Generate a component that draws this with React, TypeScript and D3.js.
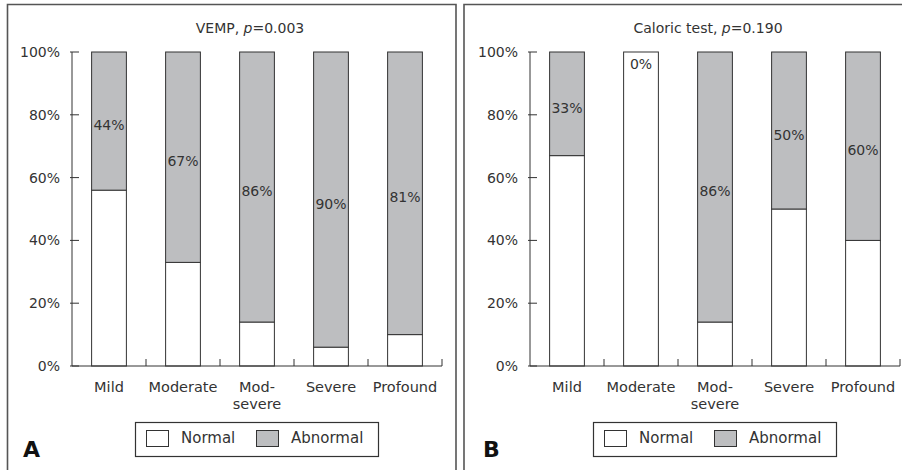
import React, { useEffect, useRef } from 'react';
import * as d3 from 'd3';

const categories = ['Mild', 'Moderate', 'Mod-severe', 'Severe', 'Profound'];
const seriesNames = ['Normal', 'Abnormal'];
const yTicks = [0, 20, 40, 60, 80, 100];

// VEMP panel (bar heights, labels as printed)
const vempNormal = [56, 33, 14, 6, 10];
const vempAbnormal = [44, 67, 86, 94, 90];
const vempLabels = ['44%', '67%', '86%', '90%', '81%'];

// Caloric test panel
const caloricNormal = [67, 100, 14, 50, 40];
const caloricAbnormal = [33, 0, 86, 50, 60];
const caloricLabels = ['33%', '0%', '86%', '50%', '60%'];

const panels = [
  { letter: 'A', title: 'VEMP', p: '=0.003', normal: vempNormal, abnormal: vempAbnormal, labels: vempLabels },
  { letter: 'B', title: 'Caloric test', p: '=0.190', normal: caloricNormal, abnormal: caloricAbnormal, labels: caloricLabels },
];

const FONT = 'DejaVu Sans, Verdana, sans-serif';
const GRAY = '#bdbec0';
const INK = '#333';

const App = () => {
  const svgRef = useRef();

  useEffect(() => {
    const svg = d3.select(svgRef.current);
    svg.selectAll('*').remove();

    const width = 902;
    const height = 470;
    svg.attr('width', width).attr('height', height);

    const panelOffset = 458;
    const y = d3.scaleLinear().domain([0, 100]).range([366, 52]);

    panels.forEach((panel, pi) => {
      const ox = pi * panelOffset;
      const g = svg.append('g');

      // panel frame
      if (pi === 0) {
        g.append('path')
          .attr('d', 'M7.5,470 V4.5 H456 V470')
          .attr('fill', 'none').attr('stroke', '#555').attr('stroke-width', 1.6);
      } else {
        g.append('path')
          .attr('d', 'M464,470 V4.5 H903')
          .attr('fill', 'none').attr('stroke', '#555').attr('stroke-width', 1.6);
      }

      const x = d3.scaleBand().domain(categories).range([72 + ox, 442 + ox]).paddingInner(0.53).paddingOuter(0.265);

      // title
      const title = g.append('text')
        .attr('x', 250 + ox).attr('y', 33)
        .attr('text-anchor', 'middle')
        .style('font-family', FONT).style('font-size', '14px').attr('fill', INK);
      title.append('tspan').text(panel.title + ', ');
      title.append('tspan').style('font-style', 'italic').text('p');
      title.append('tspan').text(panel.p);

      const rows = categories.map((c, i) => ({ cat: c, Normal: panel.normal[i], Abnormal: panel.abnormal[i] }));
      const stacked = d3.stack().keys(seriesNames)(rows);
      const color = d3.scaleOrdinal().domain(seriesNames).range(['#fff', GRAY]);

      stacked.forEach(layer => {
        g.append('g').selectAll('rect')
          .data(layer)
          .enter().append('rect')
          .attr('x', d => x(d.data.cat))
          .attr('width', x.bandwidth())
          .attr('y', d => y(d[1]))
          .attr('height', d => y(d[0]) - y(d[1]))
          .attr('fill', color(layer.key))
          .attr('stroke', INK)
          .attr('stroke-width', 1);
      });

      // value labels in the abnormal segment
      const abn = stacked[1];
      g.append('g').selectAll('text')
        .data(abn)
        .enter().append('text')
        .attr('x', d => x(d.data.cat) + x.bandwidth() / 2)
        .attr('y', d => Math.max((y(d[0]) + y(d[1])) / 2 + 9, y(d[1]) + 17))
        .attr('text-anchor', 'middle')
        .style('font-family', FONT).style('font-size', '14px').attr('fill', INK)
        .text((d, i) => panel.labels[i]);

      // y axis
      const x0 = 72 + ox;
      g.append('line').attr('x1', x0).attr('x2', x0).attr('y1', y(100)).attr('y2', y(0))
        .attr('stroke', INK).attr('stroke-width', 1);
      yTicks.forEach(t => {
        g.append('line').attr('x1', x0 - 2).attr('x2', x0 + 7).attr('y1', y(t)).attr('y2', y(t))
          .attr('stroke', INK).attr('stroke-width', 1);
        g.append('text').attr('x', x0 - 12).attr('y', y(t) + 5)
          .attr('text-anchor', 'end')
          .style('font-family', FONT).style('font-size', '14px').attr('fill', INK)
          .text(t + '%');
      });

      // x axis
      const xEnd = 442 + ox;
      g.append('line').attr('x1', x0).attr('x2', xEnd).attr('y1', y(0)).attr('y2', y(0))
        .attr('stroke', INK).attr('stroke-width', 1);
      const step = (xEnd - x0) / categories.length;
      categories.forEach((c, i) => {
        const tx = x0 + step * (i + 1);
        g.append('line').attr('x1', tx).attr('x2', tx).attr('y1', y(0)).attr('y2', y(0) - 7)
          .attr('stroke', INK).attr('stroke-width', 1);
        const parts = c.includes('-') ? [c.split('-')[0] + '-', c.split('-')[1]] : [c];
        const cx = x(c) + x.bandwidth() / 2;
        parts.forEach((p, j) => {
          g.append('text')
            .attr('x', cx).attr('y', 392 + j * 16.5)
            .attr('text-anchor', 'middle')
            .style('font-family', FONT).style('font-size', '14.5px').attr('fill', INK)
            .text(p);
        });
      });

      // legend
      const lg = g.append('g').attr('transform', `translate(${135 + ox},422)`);
      lg.append('rect').attr('x', 0.5).attr('y', 0.5).attr('width', 243).attr('height', 34)
        .attr('fill', '#fff').attr('stroke', INK).attr('stroke-width', 1.2);
      seriesNames.forEach((s, i) => {
        const item = lg.append('g').attr('transform', `translate(${11 + i * 110},8)`);
        item.append('rect').attr('x', 0.5).attr('y', 0.5).attr('width', 22).attr('height', 16)
          .attr('fill', color(s)).attr('stroke', INK).attr('stroke-width', 1);
        item.append('text').attr('x', 35).attr('y', 13)
          .style('font-family', FONT).style('font-size', '15px').attr('fill', INK)
          .text(s);
      });

      // panel letter
      g.append('text').attr('x', 23 + ox + (pi === 1 ? 2 : 0)).attr('y', 457)
        .style('font-family', 'DejaVu Sans, Arial, sans-serif').style('font-size', '22px')
        .style('font-weight', 'bold').attr('fill', '#111')
        .text(panel.letter);
    });
  }, []);

  return <svg ref={svgRef} style={{ position: 'absolute', left: 0, top: 0, background: '#fff' }}></svg>;
};

export default App;
